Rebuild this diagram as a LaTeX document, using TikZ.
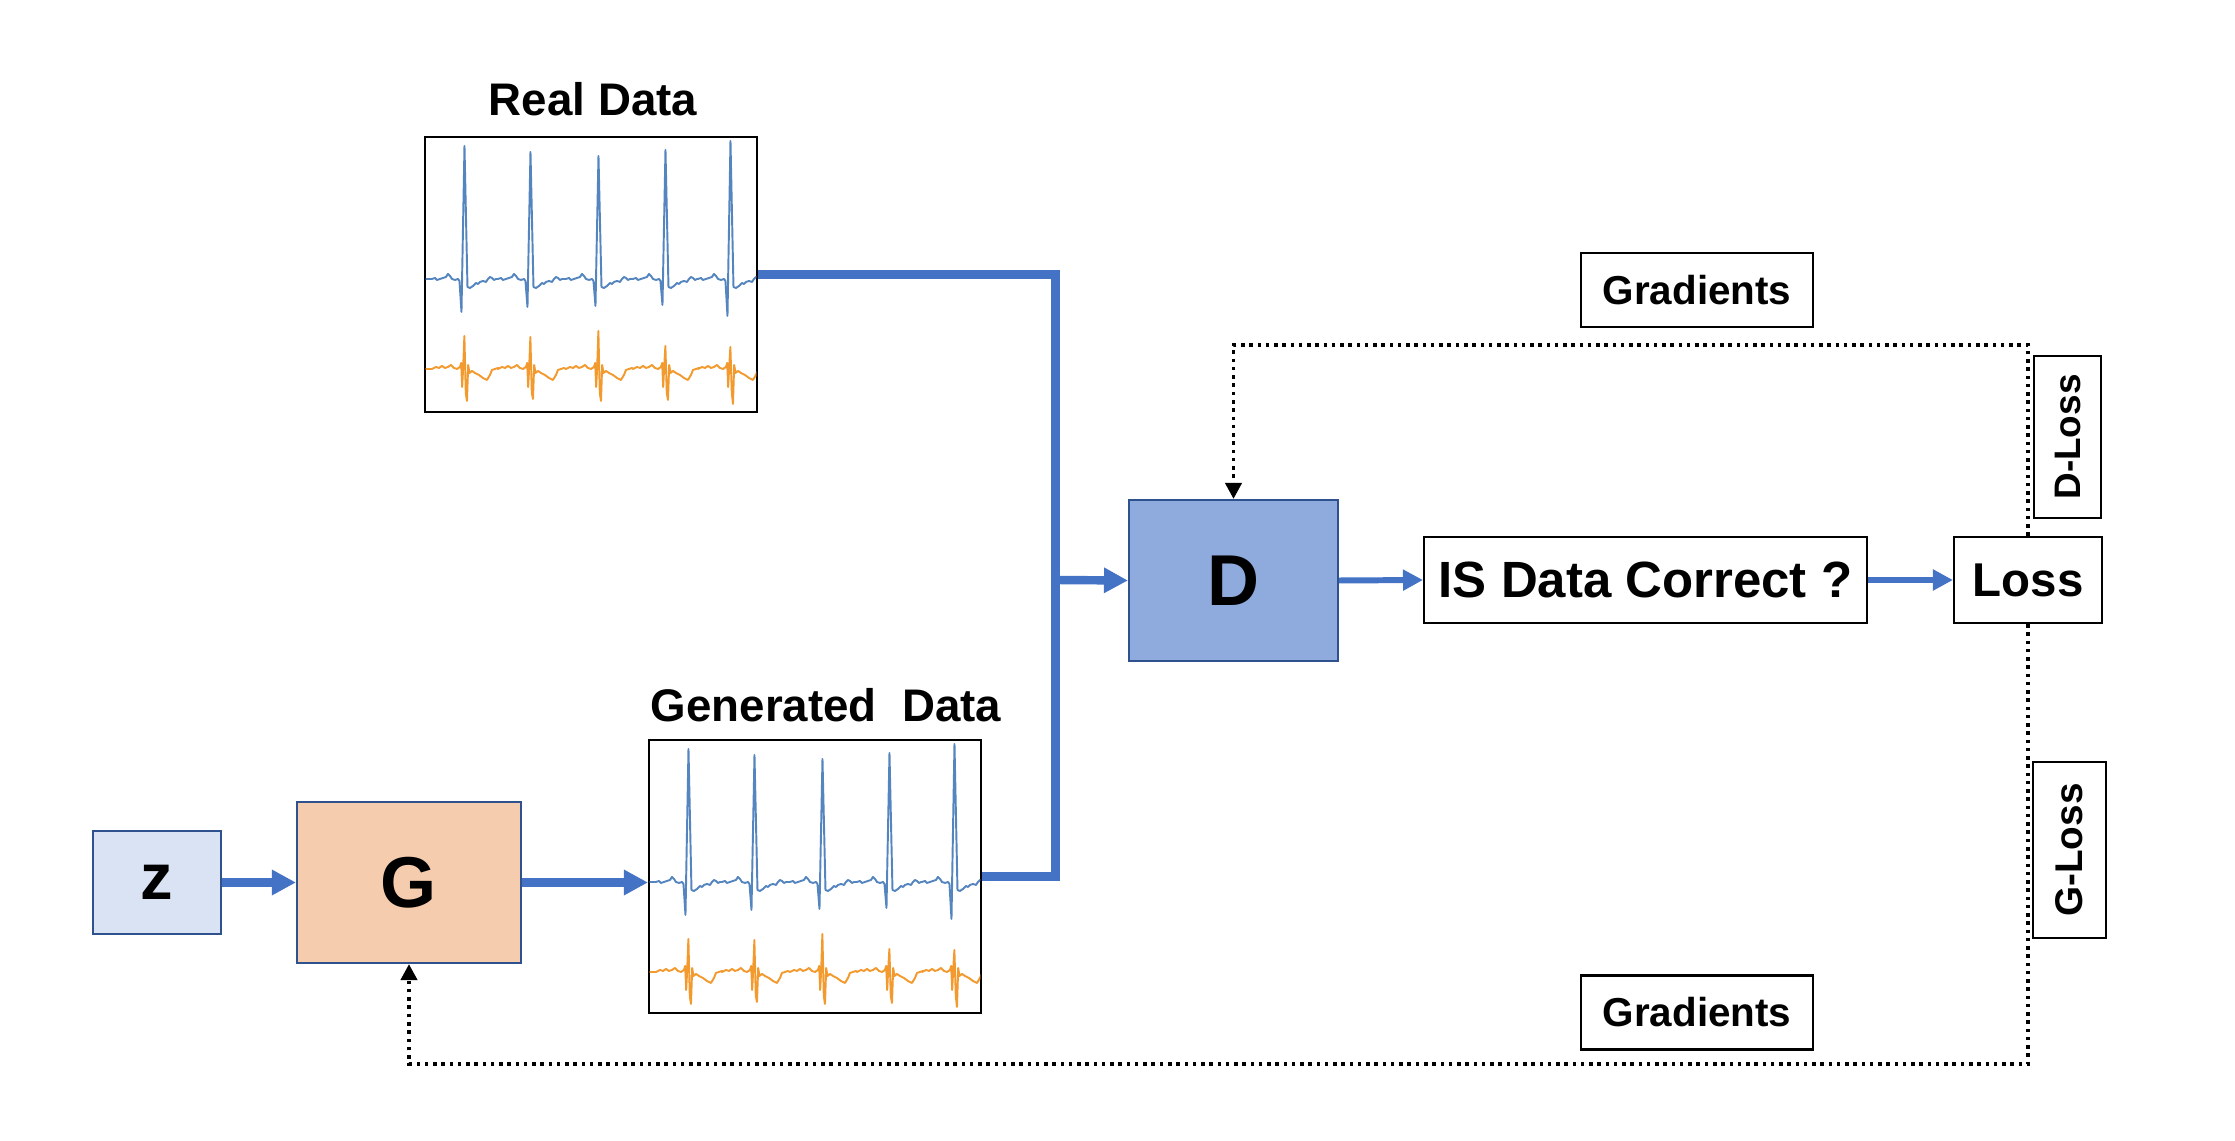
\documentclass[tikz,border=0pt]{standalone}
\usepackage{fontspec}
\setmainfont{Liberation Sans}
\usetikzlibrary{arrows.meta}
\definecolor{cblue}{HTML}{4472C4}
\definecolor{dfill}{HTML}{8FAADC}
\definecolor{dborder}{HTML}{2F528F}
\definecolor{zfill}{HTML}{DAE3F3}
\definecolor{gfill}{HTML}{F5CCAD}
\definecolor{ecgblue}{HTML}{5585BF}
\definecolor{ecgorange}{HTML}{F39A2F}
\newcommand\fsz[1]{\fontsize{#1}{1.2\dimexpr#1\relax}\selectfont}
\newcommand\ecgdraw[1]{%
  \begin{scope}
    \clip ([xshift=1pt,yshift=-1pt]#1.north west) rectangle ([xshift=-1pt,yshift=1pt]#1.south east);
    \begin{scope}[shift={(#1.north west)}]
      \draw[ecgb] (-5,143) \foreach \r/\a/\s in {41/133/33,107/127/28,175/123/27,242/129/26,307/138/37}{
        -- (\r-33,143) -- (\r-30,142) -- (\r-28,144) -- (\r-25,143) -- (\r-22,142) -- (\r-19,141)
        -- (\r-17,138) -- (\r-15,140) -- (\r-13,143) -- (\r-10,144) -- (\r-7,143) -- (\r-5.5,145)
        -- (\r-3.5,143+\s) -- (\r-0.5,143-\a) -- (\r+2.5,151) -- (\r+5,152) -- (\r+8,150)
        -- (\r+11,147) -- (\r+13,148) -- (\r+15,146) -- (\r+18,145) -- (\r+21,146) -- (\r+23,143)
        -- (\r+25,141) -- (\r+27,142) -- (\r+29,144) -- (\r+31,143)
      };
      \draw[ecgo] (-5,233) \foreach \r/\u/\d in {41/33/32,107/32/30,175/38/32,242/23/31,307/22/35}{
        -- (\r-33,233) -- (\r-29,231) -- (\r-26,232) -- (\r-23,230) -- (\r-20,232) -- (\r-17,231)
        -- (\r-14,229) -- (\r-11,232) -- (\r-8,233) -- (\r-5,231) -- (\r-3.8,227)
        -- (\r-2.8,251) -- (\r-1.8,231) -- (\r-0.6,233-\u) -- (\r+0.8,257) -- (\r+2,233+\d)
        -- (\r+3.2,229) -- (\r+4.5,237) -- (\r+7,235) -- (\r+10,237) -- (\r+14,239)
        -- (\r+18,242) -- (\r+22,244) -- (\r+25,239) -- (\r+27,234) -- (\r+30,233) -- (\r+33,232)
      };
    \end{scope}
  \end{scope}}
\begin{document}
\begin{tikzpicture}[x=0.02cm, y=-0.02cm,
  ecgb/.style={draw=ecgblue, line width=1.1pt, line join=round},
  ecgo/.style={draw=ecgorange, line width=1.1pt, line join=round},
  databox/.style={draw=black, line width=1.2pt, fill=white, inner sep=0pt},
  txtbox/.style={draw=black, line width=1.2pt, fill=white, inner sep=0pt, font=\bfseries},
  blockbox/.style={draw=dborder, line width=1.2pt, inner sep=0pt, font=\bfseries\fsz{41pt}},
  title/.style={anchor=base, inner sep=0pt, font=\bfseries\fsz{26pt}},
  flow/.style={draw=cblue, line width=4.8pt},
  flowarrow/.style={draw=cblue, line width=4.8pt, -{Triangle[length=0.48cm,width=0.48cm]}},
  thinflow/.style={draw=cblue, line width=3.4pt, -{Triangle[length=0.4cm,width=0.4cm]}},
  fb/.style={draw=black, line width=2.2pt, dash pattern=on 2pt off 2.7pt, -{Triangle[length=0.32cm,width=0.32cm]}}
]
\useasboundingbox (0,0) rectangle (2235,1141);

% data boxes
\node[databox, minimum width=6.64cm, minimum height=5.5cm] (real) at (591,274.5) {};
\node[databox, minimum width=6.64cm, minimum height=5.46cm] (gen) at (815,876.5) {};
\ecgdraw{real}
\ecgdraw{gen}
\node[title] (rtitle) at (593,116) {Real Data};
\node[title] (gtitle) at (826,722) {Generated\ \ Data};

% blocks
\node[blockbox, fill=zfill, minimum width=2.56cm, minimum height=2.06cm, font=\bfseries\fsz{37pt}] (z) at (157,882.5) {z};
\node[blockbox, fill=gfill, minimum width=4.48cm, minimum height=3.22cm] (G) at (409,882.5) {G};
\node[blockbox, fill=dfill, minimum width=4.18cm, minimum height=3.22cm] (D) at (1233.5,580.5) {D};
\node[txtbox, minimum width=8.86cm, minimum height=1.72cm, font=\bfseries\fsz{29pt}] (IS) at (1645.5,580) {IS Data Correct ?};
\node[txtbox, minimum width=2.96cm, minimum height=1.72cm, font=\bfseries\fsz{27pt}] (Loss) at (2028,580) {Loss};
\node[txtbox, minimum width=4.64cm, minimum height=1.48cm, font=\bfseries\fsz{23pt}] (gradtop) at (1697,290) {Gradients};
\node[txtbox, minimum width=4.64cm, minimum height=1.48cm, font=\bfseries\fsz{23pt}] (gradbot) at (1697,1012.5) {Gradients};
\node[txtbox, rotate=90, minimum width=3.24cm, minimum height=1.34cm, font=\bfseries\fsz{21pt}] (dloss) at (2067.5,437) {D-Loss};
\node[txtbox, rotate=90, minimum width=3.52cm, minimum height=1.46cm, font=\bfseries\fsz{22pt}] (gloss) at (2069.5,850) {G-Loss};

% main flow
\coordinate (mx) at (1055.5,580);
\draw[flow] (real.east) -| (mx);
\draw[flow] (gen.east) -| (mx);
\draw[flowarrow] (mx) -- (D.west);
\draw[flowarrow] (z.east) -- (G.west);
\draw[flowarrow] (G.east) -- (G.east -| gen.west);
\draw[thinflow] (D.east) -- (IS.west);
\draw[thinflow] (IS.east) -- (Loss.west);

% feedback
\coordinate (ftop) at (2028,345);
\coordinate (fbot) at (2028,1064);
\draw[fb] (Loss.north) -- (ftop) -| (D.north);
\draw[fb] (Loss.south) -- (fbot) -| (G.south);
\end{tikzpicture}
\end{document}
